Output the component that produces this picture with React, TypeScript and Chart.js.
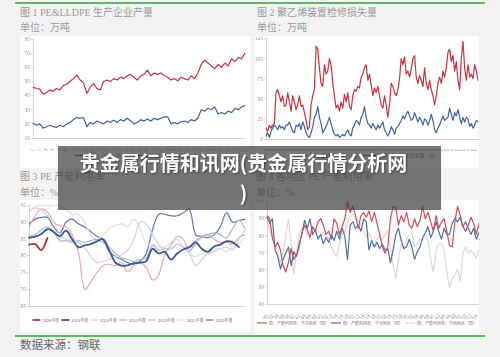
import React, { useEffect, useRef } from "react";
import { Chart, registerables } from "chart.js";
Chart.register(...registerables);

const FONT = '"Noto Sans CJK SC", "Noto Sans", sans-serif';
const SERIF = '"Liberation Serif", "DejaVu Serif", "Noto Sans CJK SC", serif';
Chart.defaults.font.family = FONT;

// ---------- Chart 1: PE & LLDPE output ----------
const c1Labels = [
  "2020-11","2020-12",
  "2021-01","2021-02","2021-03","2021-04","2021-05","2021-06","2021-07","2021-08","2021-09","2021-10","2021-11","2021-12",
  "2022-01","2022-02","2022-03","2022-04","2022-05","2022-06","2022-07","2022-08","2022-09","2022-10","2022-11","2022-12",
  "2023-01","2023-02","2023-03","2023-04","2023-05","2023-06","2023-07","2023-08","2023-09","2023-10","2023-11","2023-12",
  "2024-01","2024-02","2024-03","2024-04","2024-05","2024-06","2024-07","2024-08","2024-09","2024-10","2024-11","2024-12",
  "2025-01","2025-02","2025-03","2025-04","2025-05","2025-06","2025-07","2025-08","2025-09","2025-10","2025-11","2025-12",
  "2026-01","2026-02",
];
const c1PE = [
  46, 45, 44.5, 41, 42, 44, 43, 45, 44, 47,
  48, 50, 52, 54.5, 51, 49, 41.5, 46, 48.5, 45,
  44, 50, 51, 50, 52, 51, 53, 52, 54, 55,
  53, 51, 54, 55, 58, 54, 56, 55, 56, 54,
  53, 51, 52, 50.5, 53, 52, 51, 54, 52, 56,
  62, 65, 63, 61, 59, 62, 60, 63, 61, 66,
  64, 67, 66, 70,
];
const c1LLDPE = [
  20.5, 19, 20, 17, 18, 19, 18, 17.5, 19, 18,
  20, 21, 23, 24.5, 24, 24.5, 18, 21, 20, 22,
  21, 20, 22, 21, 22.5, 21, 23, 22, 24, 22,
  20, 21, 23, 22, 23.5, 22, 24, 23, 24, 25,
  25, 20, 21, 20, 21.5, 22, 21, 23, 22, 24,
  30, 29, 31, 30, 32, 27, 28, 27, 29, 28,
  31, 30, 32, 33,
];
const c1Names = ["PE：产量（周）", "LLDPE：产量（周）"];

// ---------- Chart 2: maintenance loss ----------
const c2Labels = [
  "23W36","23W37","23W38","23W39","23W40","23W41","23W42","23W43","23W44","23W45","23W46","23W47","23W48","23W49","23W50","23W51","23W52",
  "24W01","24W02","24W03","24W04","24W05","24W06","24W07","24W08","24W09","24W10","24W11","24W12","24W13","24W14","24W15","24W16","24W17","24W18","24W19","24W20","24W21","24W22","24W23","24W24","24W25","24W26",
  "24W27","24W28","24W29","24W30","24W31","24W32","24W33","24W34","24W35","24W36","24W37","24W38","24W39","24W40","24W41","24W42","24W43","24W44","24W45","24W46","24W47","24W48","24W49","24W50","24W51","24W52",
  "25W01","25W02","25W03","25W04","25W05","25W06","25W07","25W08","25W09","25W10","25W11","25W12","25W13","25W14","25W15","25W16","25W17","25W18","25W19","25W20","25W21","25W22","25W23","25W24","25W25","25W26",
  "25W27","25W28","25W29","25W30","25W31","25W32","25W33","25W34","25W35","25W36","25W37","25W38","25W39","25W40","25W41","25W42","25W43","25W44","25W45","25W46","25W47","25W48","25W49","25W50","25W51","25W52",
  "26W01","26W02","26W03","26W04","26W05","26W06","26W07",
];
const c2PE = [
  13.5, 9.6, 17.3, 13.5, 17.3, 19.2, 57.7, 61.5, 53.8, 46.2,
  53.8, 40.4, 42.3, 57.7, 46.2, 34.6, 53.8, 46.2, 36.5, 42.3,
  53.8, 40.4, 42.3, 32.7, 23.1, 11.5, 15.4, 42.3, 53.8, 61.5,
  115.4, 111.5, 88.5, 69.2, 65.4, 92.3, 80.8, 84.6, 100, 92.3,
  69.2, 53.8, 38.5, 42.3, 34.6, 46.2, 38.5, 55.8, 46.2, 57.7,
  40.4, 36.5, 53.8, 61.5, 59.6, 65.4, 63.5, 76.9, 80.8, 88.5,
  92.3, 73.1, 80.8, 67.3, 53.8, 63.5, 57.7, 65.4, 53.8, 42.3,
  38.5, 53.8, 42.3, 26.9, 42.3, 69.2, 65.4, 57.7, 53.8, 61.5,
  75, 100, 92.3, 101.9, 80.8, 84.6, 76.9, 86.5, 100, 103.8,
  76.9, 69.2, 78.8, 73.1, 65.4, 88.5, 69.2, 61.5, 73.1, 61.5,
  53.8, 42.3, 53.8, 69.2, 76.9, 69.2, 84.6, 76.9, 88.5, 107.7,
  111.5, 96.2, 103.8, 84.6, 96.2, 73.1, 61.5, 100, 121.2, 88.5,
  73.1, 92.3, 76.9, 80.8, 75, 92.3, 84.6, 73.1,
];
const c2LLDPE = [
  3.8, 7.7, 1.9, 9.6, 13.5, 17.3, 15.4, 11.5, 17.3, 13.5,
  15.4, 11.5, 17.3, 17.3, 21.2, 15.4, 9.6, 7.7, 17.3, 15.4,
  19.2, 11.5, 21.2, 15.4, 7.7, 3.8, 1.9, 7.7, 15.4, 26.9,
  30.8, 40.4, 26.9, 19.2, 7.7, 11.5, 15.4, 21.2, 26.9, 19.2,
  11.5, 5.8, 3.8, 5.8, 1.9, 3.8, 5.8, 3.8, 7.7, 11.5,
  5.8, 3.8, 13.5, 17.3, 23.1, 21.2, 17.3, 26.9, 30.8, 40.4,
  26.9, 19.2, 17.3, 13.5, 19.2, 15.4, 11.5, 17.3, 13.5, 17.3,
  21.2, 11.5, 7.7, 3.8, 7.7, 15.4, 11.5, 5.8, 13.5, 15.4,
  19.2, 23.1, 28.8, 25, 30.8, 34.6, 28.8, 23.1, 25, 32.7,
  26.9, 21.2, 26.9, 23.1, 17.3, 25, 23.1, 17.3, 23.1, 30.8,
  23.1, 11.5, 7.7, 13.5, 17.3, 23.1, 28.8, 23.1, 25, 26.9,
  38.5, 30.8, 23.1, 32.7, 28.8, 36.5, 26.9, 19.2, 26.9, 21.2,
  26.9, 25, 15.4, 19.2, 13.5, 17.3, 23.1, 21.2,
];
const c2Names = ["PE：检修损失量（周）", "LLDPE：检修损失量（周）"];

// ---------- Chart 3: PE capacity utilisation by year ----------
const c3Labels = [
  "01-01","01-11","01-21","02-01","02-11","02-21","03-01","03-11","03-21","04-01","04-11","04-21",
  "05-01","05-11","05-21","06-01","06-11","06-21","07-01","07-11","07-21","08-01","08-11","08-21",
  "09-01","09-11","09-21","10-01","10-11","10-21","11-01","11-11","11-21","12-01","12-11","12-21",
];
const c3Years = ["2026年度", "2025年度", "2024年度", "2023年度", "2022年度", "2021年度", "2020年度"];
const c3Y2026 = [83.2, 83.4, 81.6, 85.2];
const c3Y2025 = [
  85.3, 85.6, 86.4, 87.8, 87, 85.7, 87.4, 84.8, 82.5, 83,
  83.4, 84.2, 84.8, 81.6, 77.9, 77, 77.1, 77.7, 77.9, 78.3,
  82, 80.6, 81.1, 78.8, 80.6, 81.8, 82.5, 83.9, 82, 81.1,
  82.7, 83.2, 84.2, 83.9, 82.5,
];
const c3Y2024 = [
  93.1, 94.1, 93.6, 91.8, 89.9, 86.2, 84.8, 84.4, 83.9, 82.5,
  79.7, 77.9, 78.3, 78.8, 79.7, 80.2, 81.6, 84.8, 89.9, 89.4,
  86.2, 83.4, 81.6, 82, 83.4, 82.5, 80.6, 77, 78.8, 80.6,
  81.1, 82, 82.5, 81.6, 84.8, 87.6,
];
const c3Y2023 = [
  85.7, 86.2, 87.6, 88.5, 87.1, 84.4, 84.4, 83.9, 84.4, 83.9,
  84.4, 84.8, 83.9, 82.5, 80.6, 79.3, 78.8, 78.3, 78.8, 79.3,
  83, 81.6, 82, 82, 83.4, 82.5, 81.1, 84.4, 85.3, 86.2,
  86.7, 86.2, 85.3, 88, 90.4, 88,
];
const c3Y2022 = [
  88.5, 91.8, 93.8, 92.9, 89.9, 88.8, 88.5, 86.2, 81, 70,
  72, 75, 77, 77.4, 77, 77.9, 75.1, 77, 77.9, 76.5,
  72.8, 74.2, 80.2, 83, 85.7, 84.8, 81.6, 83.4, 85.7, 86.2,
  84.8, 83.9, 83.9, 83.4, 85.3, 86.2,
];
const c3Y2021 = [
  93.1, 94.5, 95, 94.7, 95, 94.7, 93.6, 92.2, 92.2, 89.9,
  86.2, 84.8, 86.2, 88, 88.9, 89.4, 88.5, 90.8, 88, 83.4,
  83.4, 82.5, 82.5, 83.9, 84.8, 82.5, 80.6, 79.7, 80.6, 80.2,
  81.6, 82, 81.1, 82.5, 83.4, 85.3,
];
const c3Y2020 = [
  89.4, 90.8, 91.3, 91.3, 88.5, 86.7, 89.9, 90.8, 89.4, 88.5,
  87.1, 85.7, 84.8, 81.1, 79.7, 78.8, 77.9, 77.4, 78.3, 80.6,
  87.6, 92.2, 92.2, 91.8, 91.8, 92.7, 93.6, 86.2, 85.7, 85.3,
  86.2, 88.5, 92.7, 89.9, 90.4, 90.8,
];

// ---------- Chart 4: regional utilisation ----------
const c4Labels = [
  "24W30","24W31","24W32","24W33","24W34","24W35","24W36","24W37","24W38","24W39","24W40","24W41",
  "24W42","24W43","24W44","24W45","24W46","24W47","24W48","24W49","24W50","24W51","24W52",
  "25W01","25W02","25W03","25W04","25W05","25W06","25W07","25W08","25W09","25W10","25W11","25W12","25W13",
  "25W14","25W15","25W16","25W17","25W18","25W19","25W20","25W21","25W22","25W23","25W24","25W25","25W26",
  "25W27","25W28","25W29","25W30","25W31","25W32","25W33","25W34","25W35","25W36","25W37","25W38","25W39",
  "25W40","25W41","25W42","25W43","25W44","25W45","25W46","25W47","25W48","25W49","25W50","25W51","25W52",
  "26W01","26W02","26W03","26W04","26W05",
];
const c4East = [
  91.7, 89.9, 78.9, 73.4, 76.1, 71.6, 62.4, 58.7, 64.2, 72.5,
  66.1, 68.8, 73.4, 81.7, 86.2, 83.5, 78.9, 85.3, 82.6, 88.1,
  89.9, 86.2, 80.7, 82.6, 78, 89.9, 87.2, 80.7, 85.3, 89.9,
  100, 93.6, 97.2, 91.7, 84.4, 91.7, 93.6, 90.8, 94.5, 88.1,
  93.6, 87.2, 80.7, 73.4, 69.7, 73.4, 89.9, 97.2, 96.3, 86.2,
  91.7, 88.1, 93.6, 86.2, 84.4, 89.9, 85.3, 89, 97.2, 89.9,
  93.6, 88.1, 82.6, 91.7, 84.4, 88.1, 89.9, 82.6, 74.3, 73.4,
  88.1, 97.2, 91.7, 85.3, 82.6, 86.2, 90.8, 87.2, 80.7, 87.2,
];
const c4North = [
  90.8, 87.2, 89.9, 71.6, 67.9, 60.5, 66.1, 69.7, 73.4, 62.4,
  70.6, 67.9, 75.2, 80.7, 89, 84.4, 89.9, 80.7, 83.5, 78,
  80.7, 75.2, 78.9, 76.1, 80.7, 77.1, 82.6, 78, 84.4, 79.8,
  66.1, 86.2, 88.1, 84.4, 86.2, 82.6, 89.9, 88.1, 71.6, 77.1,
  73.4, 76.1, 72.5, 75.2, 71.6, 72.5, 64.2, 71.6, 80.7, 84.4,
  77.1, 72.5, 73.4, 78, 73.4, 66.1, 70.6, 73.4, 78.9, 81.7,
  85.3, 78.9, 82.6, 88.1, 82.6, 78, 84.4, 80.7, 80.7, 87.2,
  89.9, 88.1, 90.8, 85.3, 88.1, 84.4, 80.7, 84.4, 78, 81.7,
];
const c4South = [
  88.1, 84.4, 78, 75.2, 69.7, 64.2, 69.7, 80.7, 89.9, 75,
  57.8, 69.7, 80.7, 84.4, 85.3, 80.7, 82.6, 84.4, 82.6, 78.9,
  80.7, 81.7, 79.8, 78.9, 73.4, 69.7, 67.9, 75.2, 80.7, 82.6,
  88.1, 91.7, 92.7, 89.9, 89, 86.2, 82.6, 78.9, 81.7, 78,
  73.4, 78, 80.7, 78, 80.7, 82.6, 73.4, 62.4, 55, 66.1,
  75.2, 71.6, 78, 80.7, 81.7, 73.4, 75.2, 78, 77.1, 79.8,
  77.1, 66.1, 58.7, 71.6, 75.2, 75.2, 71.6, 58.7, 49.5, 55,
  56.9, 60.5, 53.2, 69.7, 73.4, 69.7, 71.6, 69.7, 67, 71.6,
];
const c4Names = ["周：产能利用率：华东地区（周）", "周：产能利用率：华北地区（周）", "周：产能利用率：华南地区（周）"];

type Opt = {
  labels: string[];
  datasets: any[];
  yMin: number;
  yMax: number;
  yStep: number;
  yWidth: number;
  xHeight: number;
  padding: { left: number; right: number; top: number; bottom: number };
  skip: number;
  rotation: number;
  legendFont: number;
  legendLine: number;
  legendPad: number;
  tension: number;
};

function buildConfig(p: Opt): any {
  return {
    type: "line",
    data: { labels: p.labels, datasets: p.datasets },
    options: {
      responsive: false,
      animation: false,
      events: [],
      layout: { padding: p.padding },
      elements: {
        point: { radius: 0 },
        line: { tension: p.tension, borderJoinStyle: "round", borderCapStyle: "round" },
      },
      plugins: {
        title: { display: false },
        tooltip: { enabled: false },
        legend: {
          position: "bottom",
          labels: {
            font: { size: p.legendFont, family: FONT },
            color: "#777",
            usePointStyle: true,
            pointStyle: "line",
            pointStyleWidth: p.legendLine,
            boxHeight: p.legendFont,
            padding: p.legendPad,
          },
        },
      },
      scales: {
        x: {
          grid: { display: false },
          border: { color: "#d4d4d4" },
          ticks: {
            autoSkip: false,
            maxRotation: p.rotation,
            minRotation: p.rotation,
            font: { size: 5, family: FONT },
            color: "#8f8f8f",
            padding: 1,
            callback: (_v: any, i: number) => (i % p.skip === 0 ? p.labels[i] : null),
          },
          afterFit: (s: any) => {
            s.height = p.xHeight;
            s.paddingLeft = 0;
            s.paddingRight = 0;
          },
        },
        y: {
          min: p.yMin,
          max: p.yMax,
          ticks: { stepSize: p.yStep, font: { size: 5, family: FONT }, color: "#9a9a9a", padding: 1 },
          grid: { drawOnChartArea: false, tickLength: 2, color: "#d4d4d4" },
          border: { color: "#d4d4d4" },
          afterFit: (s: any) => {
            s.width = p.yWidth;
            s.paddingTop = 0;
            s.paddingBottom = 0;
          },
        },
      },
    },
  };
}

function line(label: string, data: number[], color: string, width: number) {
  return { label, data, borderColor: color, backgroundColor: color, borderWidth: width, fill: false };
}

function ChartBox(props: { left: number; top: number; width: number; height: number; build: () => any }) {
  const ref = useRef<HTMLCanvasElement | null>(null);
  useEffect(() => {
    if (!ref.current) return;
    const chart = new Chart(ref.current, props.build());
    return () => chart.destroy();
  }, []);
  return (
    <canvas
      ref={ref}
      width={props.width}
      height={props.height}
      style={{ position: "absolute", left: props.left, top: props.top, width: props.width, height: props.height }}
    />
  );
}

const titleStyle: React.CSSProperties = {
  position: "absolute",
  fontFamily: SERIF,
  fontSize: 10,
  color: "#9a9a9a",
  whiteSpace: "nowrap",
  lineHeight: "12px",
};

function Panel(props: { left: number; top: number; width: number; height: number }) {
  return (
    <div
      style={{
        position: "absolute",
        left: props.left,
        top: props.top,
        width: props.width,
        height: props.height,
        background: "#ffffff",
      }}
    />
  );
}

export default function App() {
  return (
    <div
      style={{
        position: "fixed",
        left: 0,
        top: 0,
        width: 500,
        height: 357,
        background: "#f3f3f3",
        overflow: "hidden",
      }}
    >
      <div style={{ position: "absolute", left: 15, top: 2, width: 470, height: 2, background: "#5cb85c" }} />

      <div style={{ ...titleStyle, left: 20, top: 7 }}>图 1 PE&amp;LLDPE 生产企业产量</div>
      <div style={{ ...titleStyle, left: 20, top: 22 }}>单位：万吨</div>
      <div style={{ ...titleStyle, left: 257, top: 7 }}>图 2 聚乙烯装置检修损失量</div>
      <div style={{ ...titleStyle, left: 257, top: 22 }}>单位：万吨</div>
      <div style={{ ...titleStyle, left: 20, top: 171 }}>图 3 PE 产能利用率</div>
      <div style={{ ...titleStyle, left: 20, top: 187 }}>单位：%</div>
      <div style={{ ...titleStyle, left: 256, top: 171 }}>图 4 各地区 PE 产能利用率</div>
      <div style={{ ...titleStyle, left: 256, top: 187 }}>单位：%</div>

      <Panel left={20} top={36} width={230} height={132} />
      <Panel left={255} top={36} width={224} height={132} />
      <Panel left={20} top={200} width={230} height={132} />
      <Panel left={255} top={200} width={224} height={135} />

      <ChartBox
        left={20}
        top={37}
        width={230}
        height={131}
        build={() =>
          buildConfig({
            labels: c1Labels,
            datasets: [line(c1Names[0], c1PE, "#c23340", 1.2), line(c1Names[1], c1LLDPE, "#3c5f9c", 1.2)],
            yMin: 10,
            yMax: 80,
            yStep: 10,
            yWidth: 13,
            xHeight: 13,
            padding: { left: 0, right: 5, top: 2, bottom: 0 },
            skip: 2,
            rotation: 50,
            legendFont: 5,
            legendLine: 14,
            legendPad: 2,
            tension: 0,
          })
        }
      />
      <ChartBox
        left={255}
        top={37}
        width={224}
        height={131}
        build={() =>
          buildConfig({
            labels: c2Labels,
            datasets: [line(c2Names[0], c2PE, "#c8323e", 1.2), line(c2Names[1], c2LLDPE, "#3e63a2", 1.2)],
            yMin: 0,
            yMax: 125,
            yStep: 25,
            yWidth: 11,
            xHeight: 12,
            padding: { left: 0, right: 1, top: 1.5, bottom: 0 },
            skip: 2,
            rotation: 50,
            legendFont: 5,
            legendLine: 14,
            legendPad: 2,
            tension: 0,
          })
        }
      />
      <ChartBox
        left={20}
        top={200}
        width={230}
        height={132}
        build={() =>
          buildConfig({
            labels: c3Labels,
            datasets: [
              line(c3Years[0], c3Y2026, "#b8303a", 1.8),
              line(c3Years[1], c3Y2025, "#355995", 1.8),
              line(c3Years[2], c3Y2024, "#d3d3d3", 1.2),
              line(c3Years[3], c3Y2023, "#a9b9d6", 1.2),
              line(c3Years[4], c3Y2022, "#eea7b0", 1.2),
              line(c3Years[5], c3Y2021, "#f5d3d8", 1.2),
              line(c3Years[6], c3Y2020, "#5a7ab4", 1.2),
            ],
            yMin: 65,
            yMax: 95,
            yStep: 5,
            yWidth: 9,
            xHeight: 10,
            padding: { left: 0, right: 5, top: 5, bottom: 0 },
            skip: 1,
            rotation: 60,
            legendFont: 4,
            legendLine: 8,
            legendPad: 2,
            tension: 0.4,
          })
        }
      />
      <ChartBox
        left={255}
        top={200}
        width={224}
        height={135}
        build={() =>
          buildConfig({
            labels: c4Labels,
            datasets: [
              line(c4Names[0], c4East, "#cf4d57", 1.2),
              line(c4Names[1], c4North, "#4d70aa", 1.2),
              line(c4Names[2], c4South, "#d9d9d9", 1.2),
            ],
            yMin: 40,
            yMax: 100,
            yStep: 10,
            yWidth: 12,
            xHeight: 15,
            padding: { left: 0, right: 0, top: 1.5, bottom: 0 },
            skip: 2,
            rotation: 55,
            legendFont: 4,
            legendLine: 10,
            legendPad: 2,
            tension: 0,
          })
        }
      />

      <div style={{ position: "absolute", left: 15, top: 335, width: 470, height: 2, background: "#5cb85c" }} />
      <div
        style={{
          position: "absolute",
          left: 20,
          top: 338,
          fontFamily: SERIF,
          fontSize: 11.5,
          color: "#666",
          whiteSpace: "nowrap",
          lineHeight: "14px",
        }}
      >
        数据来源：钢联
      </div>

      <div
        style={{
          position: "absolute",
          left: 58,
          top: 146,
          width: 383,
          height: 64,
          background: "rgba(60,60,60,0.7)",
          color: "#ffffff",
          fontFamily: FONT,
          fontWeight: 700,
          fontSize: 20,
          lineHeight: "30px",
          textAlign: "center",
          paddingTop: 2,
          boxSizing: "border-box",
          paddingRight: 12,
          textShadow: "1px 1px 2px rgba(0,0,0,0.45)",
          whiteSpace: "nowrap",
        }}
      >
        贵金属行情和讯网(贵金属行情分析网
        <br />)
      </div>
    </div>
  );
}
